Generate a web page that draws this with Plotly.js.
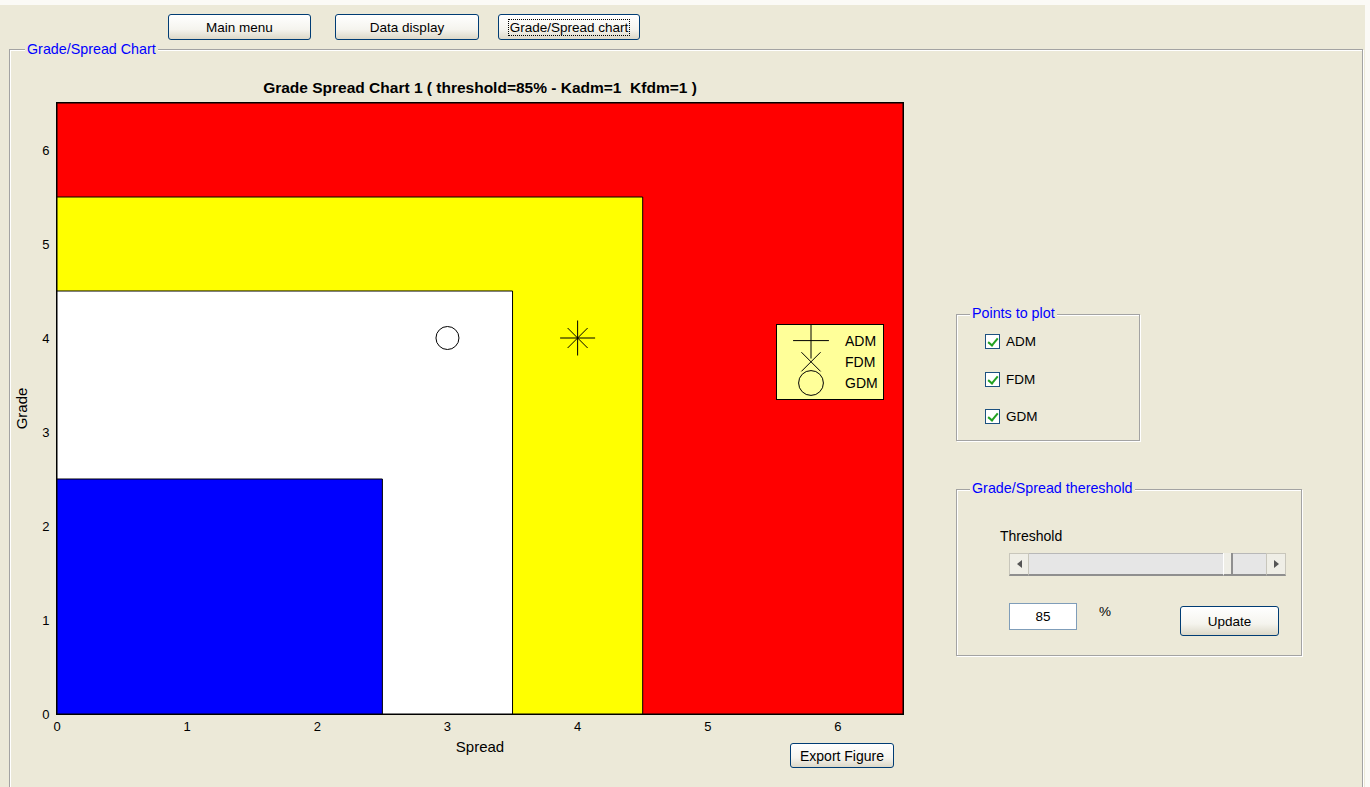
<!DOCTYPE html>
<html>
<head>
<meta charset="utf-8">
<script src="https://cdn.plot.ly/plotly-3.0.1.min.js"></script>
<style>
  html, body { margin:0; padding:0; }
  body { width:1370px; height:787px; overflow:hidden; background:#ECE9D8; position:relative;
         font-family:"Liberation Sans", Arial, sans-serif; color:#000; }
  #topstrip { position:absolute; left:0; top:0; width:1370px; height:5px; background:#fbfaf6; }
  #rightstrip { position:absolute; left:1365px; top:0; width:5px; height:787px; background:#fbfaf6; }
  #chart { position:absolute; left:0; top:0; width:1370px; height:787px; z-index:2; }
  .ui { position:absolute; z-index:3; box-sizing:border-box; }
  .btn { border:1px solid #003c74; border-radius:3px;
         background:linear-gradient(#ffffff 0%, #f5f4ee 60%, #dcd8c8 100%);
         font-size:13.5px; display:flex; align-items:center; justify-content:center; }
  .btn .focus { border:1px dotted #000; padding:0 1px; line-height:15px; }
  .panel { position:absolute; z-index:1; box-sizing:border-box; border:1px solid #a3a3a3;
           box-shadow: inset 1px 1px 0 #ffffff, 1px 1px 0 #ffffff; }
  .ptitle { position:absolute; z-index:3; color:#0000ff; font-size:14.3px; background:#ECE9D8;
            padding:0 2px; line-height:15px; }
  .lbl { position:absolute; z-index:3; font-size:13.5px; line-height:14px; }
  .cb { position:absolute; z-index:3; width:15px; height:15px; box-sizing:border-box;
        border:1px solid #1c5180; background:#fff; }
  .cb::after { content:""; position:absolute; left:4px; top:1px; width:4px; height:8px;
        border-right:2px solid #21a121; border-bottom:2px solid #21a121; transform:rotate(40deg); }
</style>
</head>
<body>
<div id="topstrip"></div>
<div id="rightstrip"></div>

<!-- top buttons -->
<div class="ui btn" style="left:168px; top:14px; width:143px; height:26px;">Main menu</div>
<div class="ui btn" style="left:335px; top:14px; width:144px; height:26px;">Data display</div>
<div class="ui btn" style="left:498px; top:14px; width:142px; height:26px;"><span class="focus">Grade/Spread chart</span></div>

<!-- main panel -->
<div class="panel" style="left:9px; top:49px; width:1354px; height:760px;"></div>
<div class="ptitle" style="left:25px; top:42px;">Grade/Spread Chart</div>

<!-- points panel -->
<div class="panel" style="left:956px; top:314px; width:184px; height:127px;"></div>
<div class="ptitle" style="left:970px; top:306px;">Points to plot</div>
<div class="cb" style="left:985px; top:334px;"></div>
<div class="lbl" style="left:1006px; top:335px;">ADM</div>
<div class="cb" style="left:985px; top:372px;"></div>
<div class="lbl" style="left:1006px; top:373px;">FDM</div>
<div class="cb" style="left:985px; top:409px;"></div>
<div class="lbl" style="left:1006px; top:410px;">GDM</div>

<!-- threshold panel -->
<div class="panel" style="left:956px; top:489px; width:346px; height:167px;"></div>
<div class="ptitle" style="left:970px; top:481px;">Grade/Spread thereshold</div>
<div class="lbl" style="left:1000px; top:529px; font-size:14px;">Threshold</div>
<!-- slider -->
<div class="ui" style="left:1009px; top:553px; width:277px; height:23px; background:#e6e6e6; border-bottom:2px solid #8f8f8f; border-top:1px solid #b8b8b8;"></div>
<div class="ui" style="left:1009px; top:553px; width:20px; height:23px; background:#efeee6; border:1px solid #c8c6bb; border-bottom:2px solid #8f8f8f; display:flex; align-items:center; justify-content:center;">
  <div style="width:0;height:0;border-top:4px solid transparent;border-bottom:4px solid transparent;border-right:5px solid #555;"></div></div>
<div class="ui" style="left:1266px; top:553px; width:20px; height:23px; background:#efeee6; border:1px solid #c8c6bb; border-bottom:2px solid #8f8f8f; display:flex; align-items:center; justify-content:center;">
  <div style="width:0;height:0;border-top:4px solid transparent;border-bottom:4px solid transparent;border-left:5px solid #555;"></div></div>
<div class="ui" style="left:1223px; top:553px; width:10px; height:23px; background:#efeee6; border-left:1px solid #fff; border-right:2px solid #8f8f8f; border-bottom:2px solid #8f8f8f;"></div>
<!-- edit box -->
<div class="ui" style="left:1009px; top:603px; width:68px; height:27px; background:#fff; border:1px solid #7f9db9; font-size:13.5px; display:flex; align-items:center; justify-content:center;">85</div>
<div class="lbl" style="left:1099px; top:605px;">%</div>
<div class="ui btn" style="left:1180px; top:606px; width:99px; height:30px;">Update</div>

<!-- export button -->
<div class="ui btn" style="left:790px; top:743px; width:104px; height:25px; font-size:14px;">Export Figure</div>

<div id="chart"></div>

<script>
// ---- data ----
const seriesNames = ['ADM', 'FDM', 'GDM'];
const spreadValues = [4, 4, 3];
const gradeValues = [4, 4, 4];

const zoneSpreadMax = [6.5, 4.5, 3.5, 2.5];
const zoneGradeMax = [6.5, 5.5, 4.5, 2.5];

const tickValues = [0, 1, 2, 3, 4, 5, 6];
const axisMax = 6.5;

// ---- styles ----
const zoneColors = ['#ff0000', '#ffff00', '#ffffff', '#0000ff'];
const seriesSymbols = ['cross-thin-open', 'x-thin-open', 'circle-open'];
const seriesSizes = [25, 20, 23];
const legendSymbolScale = [1.6, 1.2, 1.55];

const traces = [];
zoneSpreadMax.forEach((sx, i) => {
  const gy = zoneGradeMax[i];
  traces.push({
    type: 'scatter', mode: 'lines',
    x: [0, sx, sx, 0, 0], y: [0, 0, gy, gy, 0],
    fill: 'toself', fillcolor: zoneColors[i],
    line: { color: '#000', width: 1 },
    showlegend: false, hoverinfo: 'skip'
  });
});
seriesNames.forEach((name, i) => {
  traces.push({
    type: 'scatter', mode: 'markers', name: name,
    x: [spreadValues[i]], y: [gradeValues[i]],
    marker: { symbol: seriesSymbols[i], size: seriesSizes[i], color: '#000',
              line: { color: '#000', width: 1 } }
  });
});

const fam = 'Liberation Sans, Arial, sans-serif';
const tickFont = { family: fam, size: 13, color: '#000' };
const titleFont = { family: fam, size: 15, color: '#000' };
const layout = {
  width: 1370, height: 787,
  margin: { l: 57, r: 467, t: 103, b: 73, pad: 0 },
  paper_bgcolor: 'rgba(0,0,0,0)',
  plot_bgcolor: '#ffffff',
  font: tickFont,
  title: {
    text: '<b>Grade Spread Chart 1 ( threshold=85% - Kadm=1&nbsp; Kfdm=1 )</b>',
    font: { family: fam, size: 15.5, color: '#000' },
    x: 0.5, xref: 'paper', y: 1 - 88 / 787, yref: 'container', yanchor: 'middle'
  },
  xaxis: {
    range: [0, axisMax], tickvals: tickValues, ticktext: tickValues.map(String),
    showline: true, mirror: true, linecolor: '#000', linewidth: 1,
    ticks: '', showgrid: false, zeroline: false, fixedrange: true,
    tickfont: tickFont,
    title: { text: 'Spread', font: titleFont, standoff: 8 }
  },
  yaxis: {
    range: [0, axisMax], tickvals: tickValues, ticktext: tickValues.map(String),
    showline: true, mirror: true, linecolor: '#000', linewidth: 1,
    ticks: '', showgrid: false, zeroline: false, fixedrange: true,
    tickfont: tickFont, ticklabelstandoff: 4,
    title: { text: 'Grade', font: titleFont, standoff: 10 }
  },
  showlegend: true,
  legend: {
    x: (776 - 57) / 846, y: (714 - 324) / 611, xanchor: 'left', yanchor: 'top',
    bgcolor: '#ffff99', bordercolor: '#000', borderwidth: 1,
    font: { family: fam, size: 14, color: '#000' },
    itemsizing: 'trace', tracegroupgap: 0, itemwidth: 58
  }
};

Plotly.newPlot('chart', traces, layout, { displayModeBar: false, staticPlot: true }).then(gd => {
  // enlarge legend symbols to match the figure's marker size
  gd.querySelectorAll('.legend .traces').forEach((g, i) => {
    const s = legendSymbolScale[i] || 1.5;
    g.querySelectorAll('.legendpoints path.scatterpts').forEach(p => {
      const t = p.getAttribute('transform') || '';
      p.setAttribute('transform', t + ' scale(' + s + ')');
      p.style.vectorEffect = 'non-scaling-stroke';
    });
  });
});
</script>
</body>
</html>
